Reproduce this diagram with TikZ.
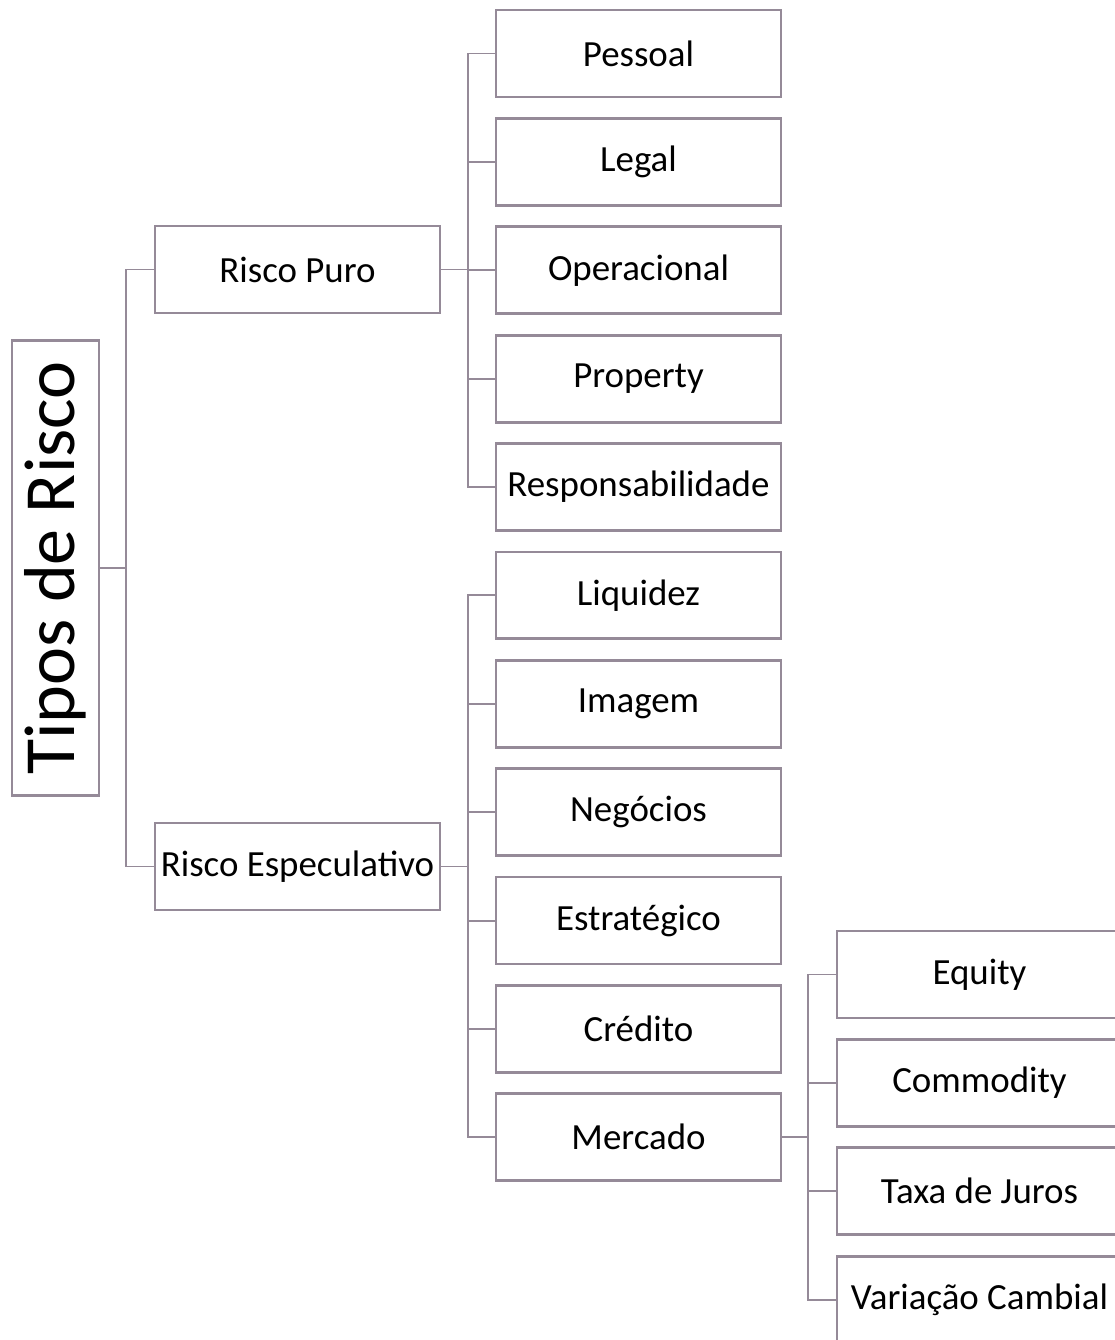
\documentclass[tikz,border=0pt]{standalone}
\usepackage{fontspec}
\setmainfont{Carlito}
\usepackage{tikz}
\usetikzlibrary{positioning}
\definecolor{tr-line}{HTML}{958A98}
\definecolor{tr-text}{HTML}{000000}

\begin{document}
\begin{tikzpicture}[
    x=0.02cm, y=-0.02cm,
    node distance=0.428cm,
    font=\fontsize{21}{25}\selectfont
  ]

  % Styles for the tree
  \tikzset{
    riskbox/.style={draw=tr-line, fill=white, line width=1.6pt, minimum width=5.7cm, minimum height=1.74cm, outer sep=0pt, text=tr-text, align=center},
    rootbox/.style={draw=tr-line, fill=white, line width=1.6pt, rotate=90, minimum width=9.1cm, minimum height=1.74cm, outer sep=0pt, inner sep=0pt, text=tr-text, font=\fontsize{41}{48}\selectfont},
    link/.style={draw=tr-line, line width=1.1pt}
  }

  \useasboundingbox (0,0) rectangle (1115,1340);

  % Root
  \node (tipos) [rootbox] at (55.5,568) {Tipos de Risco};

  % First level
  \node (puro) [riskbox] at (297.5,269.5) {Risco Puro};
  \node (especulativo) [riskbox] at (297.5,866.5) {Risco Especulativo};

  % Risco Puro children
  \node (pessoal) [riskbox] at (638.5,53.5) {Pessoal};
  \node (legal) [riskbox, below=of pessoal] {Legal};
  \node (operacional) [riskbox, below=of legal] {Operacional};
  \node (property) [riskbox, below=of operacional] {Property};
  \node (responsabilidade) [riskbox, below=of property] {Responsabilidade};

  % Risco Especulativo children
  \node (liquidez) [riskbox, below=of responsabilidade] {Liquidez};
  \node (imagem) [riskbox, below=of liquidez] {Imagem};
  \node (negocios) [riskbox, below=of imagem] {Negócios};
  \node (estrategico) [riskbox, below=of negocios] {Estratégico};
  \node (credito) [riskbox, below=of estrategico] {Crédito};
  \node (mercado) [riskbox, below=of credito] {Mercado};

  % Mercado children
  \node (equity) [riskbox] at (979.5,974.5) {Equity};
  \node (commodity) [riskbox, below=of equity] {Commodity};
  \node (juros) [riskbox, below=of commodity] {Taxa de Juros};
  \node (cambial) [riskbox, below=of juros] {Variação Cambial};

  % Connectors
  \draw[link] (tipos.south) -- ++(27,0) |- (puro.west);
  \draw[link] (tipos.south) -- ++(27,0) |- (especulativo.west);

  \draw[link] (puro.east) -- ++(28,0) |- (pessoal.west);
  \draw[link] (puro.east) -- ++(28,0) |- (legal.west);
  \draw[link] (puro.east) -- ++(28,0) |- (operacional.west);
  \draw[link] (puro.east) -- ++(28,0) |- (property.west);
  \draw[link] (puro.east) -- ++(28,0) |- (responsabilidade.west);

  \draw[link] (especulativo.east) -- ++(28,0) |- (liquidez.west);
  \draw[link] (especulativo.east) -- ++(28,0) |- (imagem.west);
  \draw[link] (especulativo.east) -- ++(28,0) |- (negocios.west);
  \draw[link] (especulativo.east) -- ++(28,0) |- (estrategico.west);
  \draw[link] (especulativo.east) -- ++(28,0) |- (credito.west);
  \draw[link] (especulativo.east) -- ++(28,0) |- (mercado.west);

  \draw[link] (mercado.east) -- ++(27,0) |- (equity.west);
  \draw[link] (mercado.east) -- ++(27,0) |- (commodity.west);
  \draw[link] (mercado.east) -- ++(27,0) |- (juros.west);
  \draw[link] (mercado.east) -- ++(27,0) |- (cambial.west);

\end{tikzpicture}
\end{document}
